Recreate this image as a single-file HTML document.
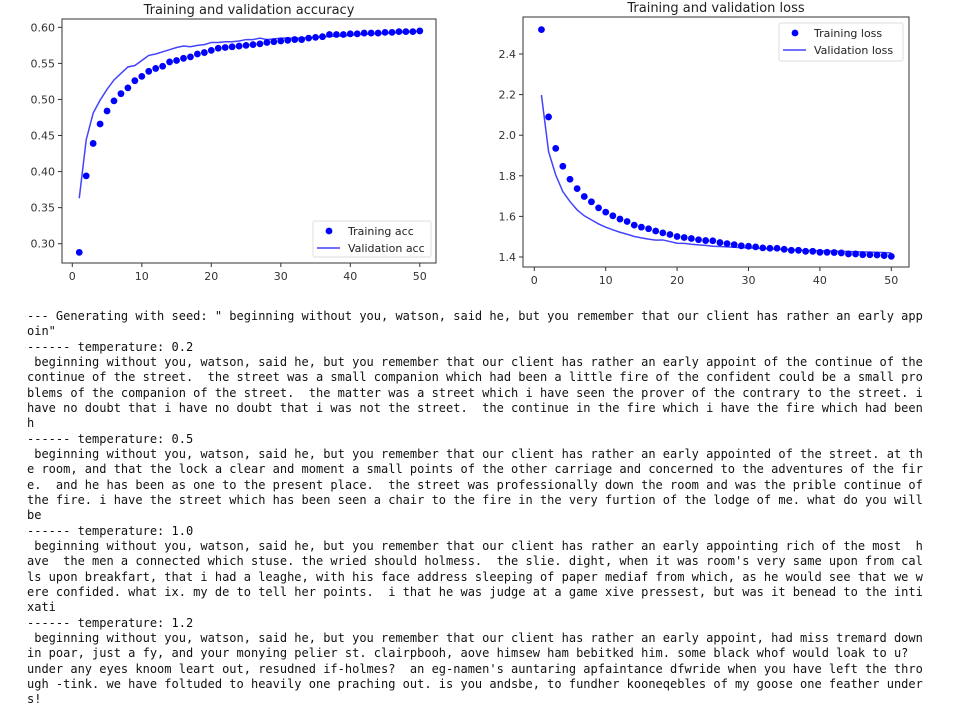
<!DOCTYPE html>
<html><head><meta charset="utf-8">
<style>
body{margin:0;background:#fff;width:961px;height:711px;overflow:hidden;position:relative}
svg{position:absolute;left:0;top:0}
#out{position:absolute;left:27px;top:309px;margin:0;font-family:"DejaVu Sans Mono","Liberation Mono",monospace;font-size:12px;line-height:15.33px;color:#111;white-space:pre}
</style></head><body>
<svg id="charts" width="961" height="300" font-family="'DejaVu Sans','Liberation Sans',sans-serif"></svg>
<pre id="out">--- Generating with seed: " beginning without you, watson, said he, but you remember that our client has rather an early app
oin"
------ temperature: 0.2
 beginning without you, watson, said he, but you remember that our client has rather an early appoint of the continue of the
continue of the street.  the street was a small companion which had been a little fire of the confident could be a small pro
blems of the companion of the street.  the matter was a street which i have seen the prover of the contrary to the street. i
have no doubt that i have no doubt that i was not the street.  the continue in the fire which i have the fire which had been
h
------ temperature: 0.5
 beginning without you, watson, said he, but you remember that our client has rather an early appointed of the street. at th
e room, and that the lock a clear and moment a small points of the other carriage and concerned to the adventures of the fir
e.  and he has been as one to the present place.  the street was professionally down the room and was the prible continue of
the fire. i have the street which has been seen a chair to the fire in the very furtion of the lodge of me. what do you will
be
------ temperature: 1.0
 beginning without you, watson, said he, but you remember that our client has rather an early appointing rich of the most  h
ave  the men a connected which stuse. the wried should holmess.  the slie. dight, when it was room's very same upon from cal
ls upon breakfart, that i had a leaghe, with his face address sleeping of paper mediaf from which, as he would see that we w
ere confided. what ix. my de to tell her points.  i that he was judge at a game xive pressest, but was it benead to the inti
xati
------ temperature: 1.2
 beginning without you, watson, said he, but you remember that our client has rather an early appoint, had miss tremard down
in poar, just a fy, and your monying pelier st. clairpbooh, aove himsew ham bebitked him. some black whof would loak to u?
under any eyes knoom leart out, resudned if-holmes?  an eg-namen's auntaring apfaintance dfwride when you have left the thro
ugh -tink. we have foltuded to heavily one praching out. is you andsbe, to fundher kooneqebles of my goose one feather under
s!</pre>
<script>
const trainAcc=[0.288,0.394,0.439,0.466,0.484,0.498,0.508,0.516,0.526,0.532,0.539,0.543,0.546,0.552,0.554,0.557,0.559,0.563,0.565,0.568,0.571,0.572,0.573,0.574,0.575,0.576,0.577,0.579,0.580,0.581,0.582,0.583,0.583,0.585,0.586,0.587,0.590,0.590,0.590,0.591,0.591,0.592,0.592,0.592,0.593,0.593,0.594,0.594,0.594,0.595];
const valAcc=[0.363,0.444,0.481,0.499,0.514,0.527,0.536,0.545,0.547,0.554,0.561,0.563,0.566,0.569,0.572,0.574,0.573,0.575,0.576,0.579,0.579,0.580,0.580,0.581,0.583,0.583,0.585,0.583,0.584,0.585,0.585,0.585,0.585,0.586,0.586,0.587,0.587,0.588,0.588,0.589,0.590,0.590,0.591,0.591,0.592,0.592,0.593,0.593,0.594,0.594];
const trainLoss=[2.52,2.09,1.935,1.847,1.783,1.737,1.698,1.672,1.642,1.621,1.603,1.587,1.575,1.557,1.547,1.539,1.528,1.519,1.511,1.501,1.496,1.491,1.485,1.481,1.480,1.471,1.466,1.461,1.455,1.453,1.450,1.445,1.443,1.443,1.438,1.433,1.433,1.428,1.428,1.423,1.423,1.422,1.420,1.415,1.415,1.411,1.411,1.410,1.407,1.403];
const valLoss=[2.198,1.919,1.804,1.722,1.673,1.632,1.603,1.583,1.563,1.547,1.534,1.522,1.512,1.501,1.494,1.488,1.483,1.484,1.476,1.468,1.467,1.463,1.460,1.457,1.453,1.452,1.450,1.448,1.446,1.445,1.443,1.441,1.440,1.438,1.437,1.436,1.434,1.433,1.432,1.431,1.430,1.429,1.428,1.427,1.426,1.425,1.424,1.423,1.422,1.420];
const accTicks=["0.30","0.35","0.40","0.45","0.50","0.55","0.60"];
const lossTicks=["1.4","1.6","1.8","2.0","2.2","2.4"];
const xTicks=[0,10,20,30,40,50];

const svg=document.getElementById('charts');
const NS='http://www.w3.org/2000/svg';
function mk(tag,attrs,parent){const e=document.createElementNS(NS,tag);for(const k in attrs)e.setAttribute(k,attrs[k]);(parent||svg).appendChild(e);return e;}

function chart(cfg){
  const g=mk('g',{});
  
  
  const X=v=>cfg.x0+v*cfg.xs, Y=v=>cfg.y0-(v-cfg.yb)*cfg.ys;
  const t=mk('text',{x:(cfg.L+cfg.R)/2,y:cfg.T-5,'text-anchor':'middle','font-size':13,fill:'#222'},g);
  t.textContent=cfg.title;
  
  
  xTicks.forEach(v=>{
    mk('line',{x1:X(v),x2:X(v),y1:cfg.B,y2:cfg.B+4,stroke:'#333'},g);
    const l=mk('text',{x:X(v),y:cfg.B+17,'text-anchor':'middle','font-size':11,fill:'#333'},g);
    l.textContent=v;
    
    
  });
  cfg.yTicks.forEach(s=>{
    const v=parseFloat(s);
    mk('line',{x1:cfg.L-4,x2:cfg.L,y1:Y(v),y2:Y(v),stroke:'#333'},g);
    const l=mk('text',{x:cfg.L-7,y:Y(v)+4,'text-anchor':'end','font-size':11,fill:'#333'},g);
    l.textContent=s;
    
    
  });
  const pts=cfg.line.map((v,i)=>X(i+1)+','+Y(v)).join(' ');
  const pl=mk('polyline',{points:pts,fill:'none',stroke:'#2222ff','stroke-width':1.5,opacity:0.85},g);
  
  
  cfg.dots.forEach((v,i)=>{
    const c=mk('circle',{cx:X(i+1),cy:Y(v),r:3.4,fill:'#0000ff'},g);
    
    
  });
  mk('rect',{x:cfg.L,y:cfg.T,width:cfg.R-cfg.L,height:cfg.B-cfg.T,fill:'none',stroke:'#333','stroke-width':1},g);
  const lg=mk('g',{},g);
  
  
  const [lx,ly,lw,lh]=cfg.leg;
  mk('rect',{x:lx,y:ly,width:lw,height:lh,rx:2,fill:'#fff',stroke:'#ddd'},lg);
  mk('circle',{cx:lx+16,cy:ly+10,r:3.4,fill:'#0000ff'},lg);
  const a=mk('text',{x:lx+35,y:ly+14,'font-size':11,fill:'#222'},lg);a.textContent=cfg.labels[0];
  mk('line',{x1:lx+4,x2:lx+27,y1:ly+27,y2:ly+27,stroke:'#2222ff','stroke-width':1.5,opacity:0.85},lg);
  const b=mk('text',{x:lx+35,y:ly+31,'font-size':11,fill:'#222'},lg);b.textContent=cfg.labels[1];
}
chart({name:'accuracy-chart',title:'Training and validation accuracy',L:62,R:436,T:19,B:263,x0:72.3,xs:6.95,y0:243.7,yb:0.30,ys:721.3,yTicks:accTicks,dots:trainAcc,line:valAcc,leg:[313,221,118,36],labels:['Training acc','Validation acc']});
chart({name:'loss-chart',title:'Training and validation loss',L:523,R:909,T:17,B:267,x0:534.3,xs:7.14,y0:257,yb:1.4,ys:203,yTicks:lossTicks,dots:trainLoss,line:valLoss,leg:[779,23,124,38],labels:['Training loss','Validation loss']});
</script>
</body></html>
